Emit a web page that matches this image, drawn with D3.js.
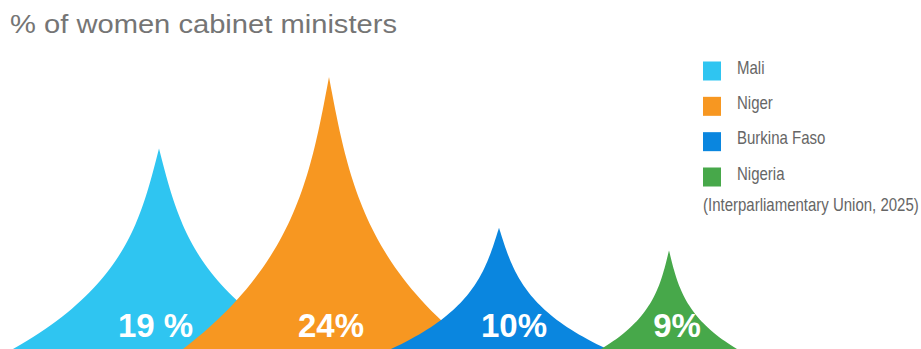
<!DOCTYPE html>
<html>
<head>
<meta charset="utf-8">
<script src="https://cdn.jsdelivr.net/npm/d3@7"></script>
<style>
  html, body { margin: 0; padding: 0; background: #fff; }
  svg { display: block; }
</style>
</head>
<body>
<svg id="chart" width="921" height="349"></svg>
<script>
// ---- data ----
const categories = ["Mali", "Niger", "Burkina Faso", "Nigeria"];
const valueLabels = ["19 %", "24%", "10%", "9%"];
// spike heights as drawn in the picture (percent units)
const spikeHeights = [17.7, 24, 10.7, 8.7];
const colors = ["#2FC5F1", "#F79721", "#0A86DF", "#47A84A"];
const title = "% of women cabinet ministers";
const source = "(Interparliamentary Union, 2025)";

// ---- layout ----
const W = 921, H = 349;
const svg = d3.select("#chart");

const x = d3.scalePoint().domain(categories).range([159, 669]);
const y = d3.scaleLinear().domain([0, 24]).range([H, 77]);
const halfWidth = d3.scaleLinear().domain([8.7, 10.7, 17.7]).range([68, 108, 146]).clamp(true);
const labelShift = [-3.5, 2, 15, 8];

// concave spike profile: fraction of half-width at fraction u of height from the top
const profile = u => 0.35 * u + 0.65 * Math.pow(u, 3.2);
const line = d3.line();

function spikePath(cat, h) {
  const cx = x(cat), top = y(h), base = y(0), hh = base - top, hw = halfWidth(h);
  const us = d3.range(0, 1.0001, 0.02);
  const left = us.slice().reverse().map(u => [cx - hw * profile(u), top + hh * u]);
  const right = us.slice(1).map(u => [cx + hw * profile(u), top + hh * u]);
  const pts = left.concat(right);
  pts.push([cx + hw, base + 5], [cx - hw, base + 5]);
  return line(pts) + "Z";
}

// title
svg.append("text")
  .attr("x", 10).attr("y", 33)
  .attr("font-family", "Liberation Sans, Arial, sans-serif")
  .attr("font-size", 26)
  .attr("fill", "#757575")
  .attr("textLength", 387).attr("lengthAdjust", "spacingAndGlyphs")
  .text(title);

// spikes
const data = categories.map((c, i) => ({ cat: c, h: spikeHeights[i], label: valueLabels[i], color: colors[i], i }));
svg.append("g").selectAll("path").data(data).join("path")
  .attr("d", d => spikePath(d.cat, d.h))
  .attr("fill", d => d.color);

// value labels
svg.append("g").selectAll("text").data(data).join("text")
  .attr("x", d => x(d.cat) + labelShift[d.i])
  .attr("y", 337)
  .attr("text-anchor", "middle")
  .attr("font-family", "Liberation Sans, Arial, sans-serif")
  .attr("font-weight", "bold")
  .attr("font-size", 33)
  .attr("fill", "#ffffff")
  .text(d => d.label);

// legend
const ly = d3.scalePoint().domain(categories).range([71, 177]);
const legend = svg.append("g");
legend.selectAll("rect").data(data).join("rect")
  .attr("x", 703).attr("y", d => ly(d.cat) - 9.5)
  .attr("width", 18).attr("height", 19)
  .attr("fill", d => d.color);
legend.selectAll("text").data(data).join("text")
  .attr("transform", d => `translate(737,${ly(d.cat) + 2.5}) scale(1,1.17)`)
  .attr("font-family", "Liberation Sans, Arial, sans-serif")
  .attr("font-size", 15)
  .attr("fill", "#666666")
  .text(d => d.cat);

svg.append("text")
  .attr("transform", "translate(703,211) scale(1,1.17)")
  .attr("font-family", "Liberation Sans, Arial, sans-serif")
  .attr("font-size", 15)
  .attr("fill", "#666666")
  .text(source);
</script>
</body>
</html>
